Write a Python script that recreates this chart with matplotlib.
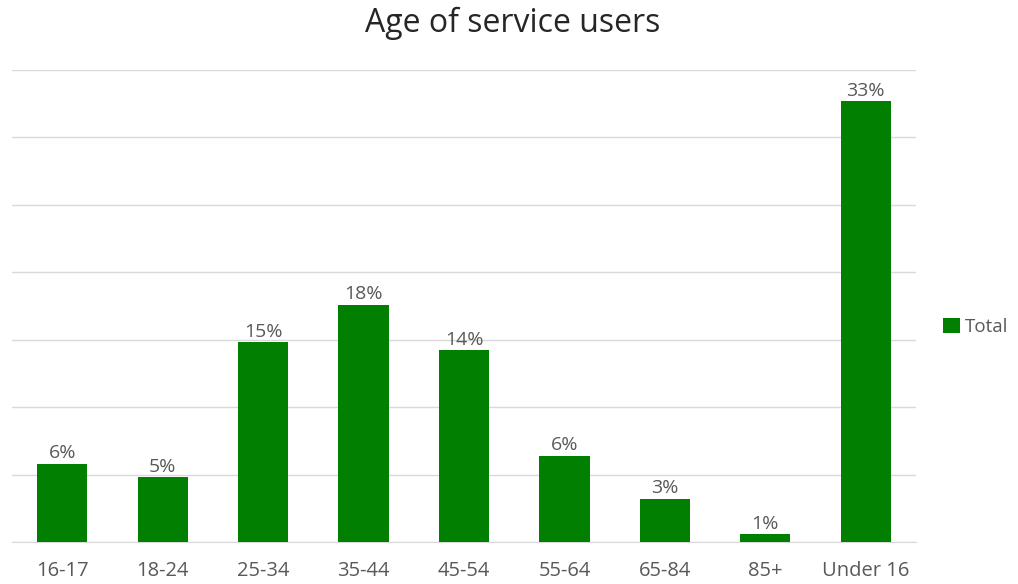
import matplotlib.pyplot as plt
import numpy as np

plt.rcParams['font.family'] = ['Open Sans', 'DejaVu Sans']

# Data (labels are rounded percents)
age_groups = ['16-17', '18-24', '25-34', '35-44', '45-54', '55-64', '65-84', '85+', 'Under 16']
totals = [5.8, 4.8, 14.8, 17.6, 14.2, 6.4, 3.2, 0.6, 32.7]
labels = ['6%', '5%', '15%', '18%', '14%', '6%', '3%', '1%', '33%']

GREEN = '#007f00'
GREY_TEXT = '#595959'

fig = plt.figure(figsize=(10.18, 5.84), dpi=100)
ax = fig.add_axes([0.0118, 0.0719, 0.888, 0.8083])

x = np.arange(len(age_groups))
bars = ax.bar(x, totals, width=0.5, color=GREEN, label='Total', zorder=3)

for bar, lab in zip(bars, labels):
    ax.annotate(lab, xy=(bar.get_x() + bar.get_width() / 2, bar.get_height()),
                xytext=(0, 1), textcoords='offset points',
                ha='center', va='bottom', fontsize=14, color=GREY_TEXT)

ax.set_xlim(-0.5, len(age_groups) - 0.5)
ax.set_ylim(0, 35)
ax.set_yticks(np.arange(0, 36, 5))
ax.set_yticklabels([])
ax.tick_params(axis='y', length=0)
ax.tick_params(axis='x', length=0, pad=14, labelsize=14.5, labelcolor=GREY_TEXT)
ax.set_xticks(x)
ax.set_xticklabels(age_groups)
ax.yaxis.grid(True, color='#d9d9d9', linewidth=1)
ax.set_axisbelow(True)
for s in ['top', 'right', 'left']:
    ax.spines[s].set_visible(False)
ax.spines['bottom'].set_color('#d9d9d9')

fig.text(0.504, 0.960, 'Age of service users', ha='center', va='center',
         fontsize=23, color='#262626')

leg = fig.legend(loc='center left', bbox_to_anchor=(0.926, 0.44), frameon=False,
                 fontsize=13.5, handlelength=0.9, handleheight=0.9, handletextpad=0.3,
                 borderpad=0, borderaxespad=0)
for t in leg.get_texts():
    t.set_color(GREY_TEXT)

fig.savefig('out.png', dpi=100)
